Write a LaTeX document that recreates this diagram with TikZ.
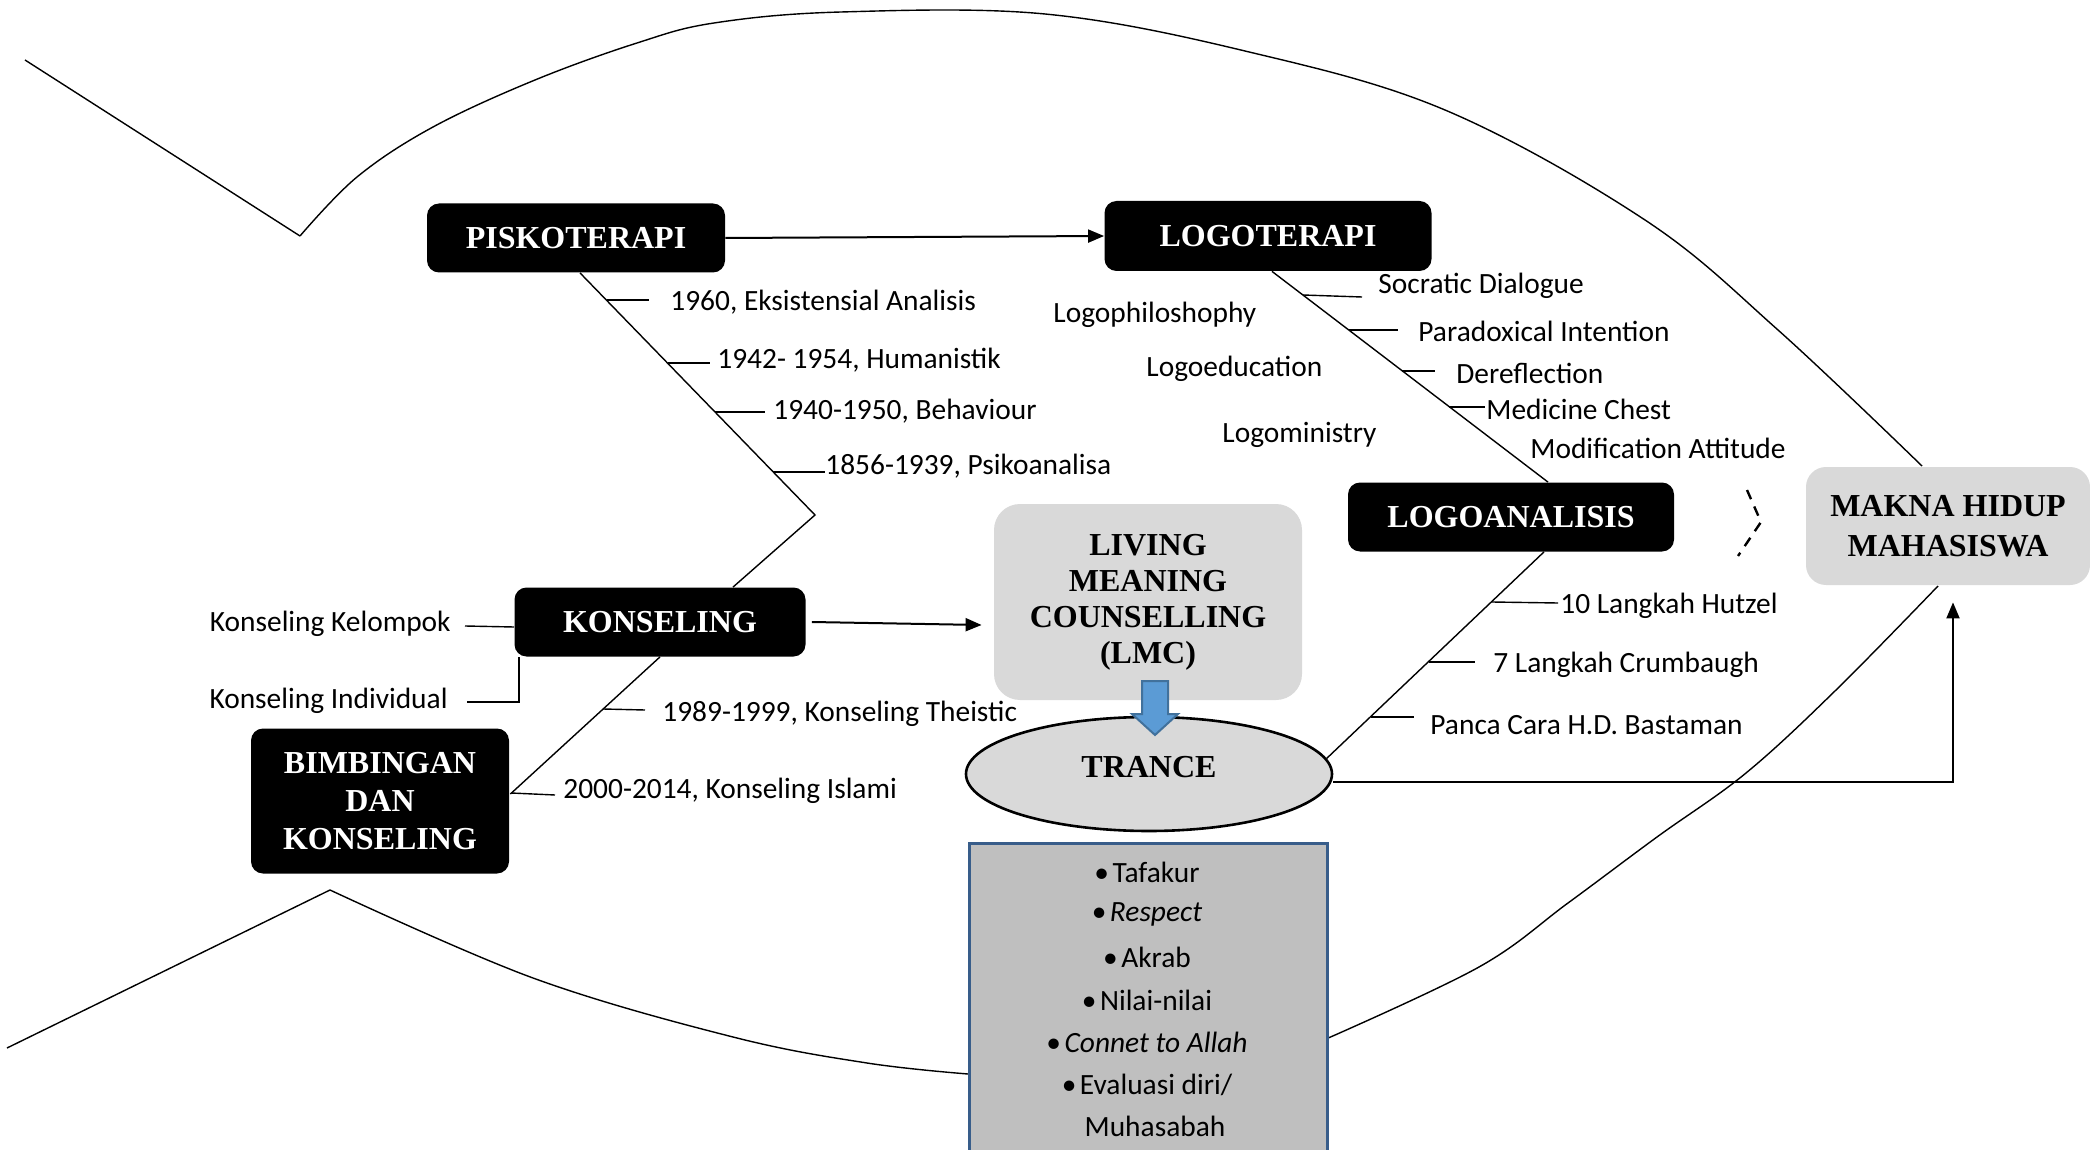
\documentclass[tikz,border=0pt]{standalone}
\usepackage{fontspec}
\setmainfont{Carlito}
\newfontfamily\tms{Liberation Serif}
\usetikzlibrary{arrows.meta,shapes.geometric,calc}
\definecolor{lg}{HTML}{D9D9D9}
\definecolor{mg}{HTML}{BFBFBF}
\definecolor{bb}{HTML}{385D8A}
\definecolor{ab}{HTML}{5B9BD5}
\definecolor{abd}{HTML}{41719C}
\newcommand{\bul}{•\hspace{0.12em}}
\begin{document}
\begin{tikzpicture}[x=0.5pt,y=-0.5pt,
  ln/.style={line width=0.7pt},
  blk/.style={fill=black,text=white,rounded corners=6pt,font=\tms\bfseries\fontsize{16}{19}\selectfont,align=center,inner sep=0pt},
  gbx/.style={fill=lg,font=\tms\bfseries\fontsize{16}{18}\selectfont,align=center,inner sep=0pt},
  lbl/.style={anchor=west,inner sep=0pt,font=\fontsize{14.7}{17}\selectfont},
  itm/.style={inner sep=0pt,font=\fontsize{14.7}{17}\selectfont},
  arr/.style={line width=1pt,-{Triangle[length=8pt,width=6.5pt]}}]
\clip (0,0) rectangle (2090,1150);
\fill[white] (0,0) rectangle (2090,1150);

% outer curves
\draw[ln] (25,60) -- (300,236);
\draw[ln] plot[smooth,tension=0.6] coordinates {(300,236) (357,177) (433,127) (535,80) (637,43) (714,23) (841,12) (1045,14) (1245,51) (1445,110) (1645,220) (1778,330) (1922,466)};
\draw[ln] (7,1048) -- (330,890);
\draw[ln] plot[smooth,tension=0.6] coordinates {(330,890) (533,978) (733,1037) (867,1063) (968,1074)};
\draw[ln] plot[smooth,tension=0.6] coordinates {(1326,1039) (1479,967) (1568,903) (1657,837) (1746,773) (1836,690) (1938,586)};

% boxes
\node[blk,minimum width=149pt,minimum height=34.5pt] (pisko) at (576,238) {PISKOTERAPI};
\node[blk,minimum width=163.5pt,minimum height=35pt] (logo) at (1268,236) {LOGOTERAPI};
\node[blk,minimum width=163pt,minimum height=34.5pt] (logoan) at (1511,517) {LOGOANALISIS};
\node[blk,minimum width=145.5pt,minimum height=34.5pt] (kons) at (660,622) {KONSELING};
\node[blk,minimum width=129pt,minimum height=72.5pt] (bk) at (380,801) {BIMBINGAN\\DAN\\KONSELING};
\node[gbx,rounded corners=13pt,minimum width=154pt,minimum height=98pt] (lmc) at (1148,602) {LIVING\\MEANING\\COUNSELLING\\(LMC)};
\node[gbx,rounded corners=10pt,minimum width=142pt,minimum height=59pt,font=\tms\bfseries\fontsize{16}{20}\selectfont] (makna) at (1948,526) {MAKNA HIDUP\\MAHASISWA};
\node[ellipse,draw,line width=1.3pt,fill=lg,minimum width=183pt,minimum height=57pt,inner sep=0pt] (trance) at (1149,774) {};
\node[inner sep=0pt,font=\tms\bfseries\fontsize{16}{19}\selectfont] (trancetxt) at (1149,767) {TRANCE};
\node[draw=bb,fill=mg,line width=1.3pt,minimum width=179pt,minimum height=160pt,anchor=north west,inner sep=0pt] (list) at (968,842) {};

% list items
\node[itm] (i1) at (1147,872) {\bul Tafakur};
\node[itm] (i2) at (1147,914) {\bul\textit{Respect}};
\node[itm] (i3) at (1147,957) {\bul Akrab};
\node[itm] (i4) at (1147,1000) {\bul Nilai-nilai};
\node[itm] (i5) at (1147,1042) {\bul\textit{Connet to Allah}};
\node[itm] (i6) at (1147,1085) {\bul Evaluasi diri/};
\node[itm] (i7) at (1155,1126) {Muhasabah};

% blue arrow
\draw[fill=ab,draw=abd,line width=1pt] (1142,681) -- (1168,681) -- (1168,714) -- (1178,714) -- (1155,735) -- (1132,714) -- (1142,714) -- cycle;

% main arrows
\draw[arr] (pisko.east) -- (logo.west);
\draw[arr] ($(kons.east)+(6,0)$) -- ($(lmc.west)+(-12,23)$);
\draw[arr] (trance.east) ++(0,8) -| ($(makna.south)+(5,17)$);

% fishbone spines
\coordinate (v1) at (815,515);
\draw[ln] ($(pisko.south)+(4,0)$) -- (v1) -- ($(kons.north)+(73,0)$);
\draw[ln] ($(logo.south)+(4,0)$) -- ($(logoan.north)+(37,0)$);
\draw[ln] ($(logoan.south)+(33,0)$) -- (trance.5);
\draw[ln] (kons.south) -- ($(bk.east)+(1,-7)$);

% psikoterapi labels
\node[lbl] (p1) at (670,302) {1960, Eksistensial Analisis};
\node[lbl] (p2) at (717,360) {1942- 1954, Humanistik};
\node[lbl] (p3) at (773,411) {1940-1950, Behaviour};
\node[lbl] (p4) at (825,466) {1856-1939, Psikoanalisa};
\draw[ln] (607,300) -- (649,300);
\draw[ln] (668,363) -- (710,363);
\draw[ln] (715,412) -- (765,412);
\draw[ln] (773,472) -- (825,472);

% logoterapi labels
\node[lbl] (l1) at (1378,286) {Socratic Dialogue};
\node[lbl] (l2) at (1418,331) {Paradoxical Intention};
\node[lbl] (l3) at (1456,373) {Dereflection};
\node[lbl] (l4) at (1486,409) {Medicine Chest};
\node[lbl] (l5) at (1530,448) {Modification Attitude};
\draw[ln] (1303,295) -- (1362,297);
\draw[ln] (1349,330) -- (1398,330);
\draw[ln] (1402,371) -- (1435,371);
\draw[ln] (1449,407) -- (1485,407);
\node[lbl] (lp) at (1053,315) {Logophiloshophy};
\node[lbl] (le) at (1146,369) {Logoeducation};
\node[lbl] (lm) at (1222,435) {Logoministry};

% logoanalisis labels
\node[lbl] (a1) at (1560,606) {10 Langkah Hutzel};
\node[lbl] (a2) at (1493,665) {7 Langkah Crumbaugh};
\node[lbl] (a3) at (1430,725) {Panca Cara H.D. Bastaman};
\draw[ln] (1492,602) -- (1558,603);
\draw[ln] (1429,662) -- (1475,662);
\draw[ln] (1371,717) -- (1414,717);

% konseling labels
\node[lbl] (k1) at (662,714) {1989-1999, Konseling Theistic};
\node[lbl] (k2) at (563,791) {2000-2014, Konseling Islami};
\draw[ln] (603,709) -- (645,710);
\draw[ln] (511,793) -- (555,795);
\node[lbl,anchor=east] (kk) at (451,624) {Konseling Kelompok};
\node[lbl,anchor=east] (ki) at (448,701) {Konseling Individual};
\draw[ln] ($(kk.east)+(14,2)$) -- ($(kons.west)+(0,5)$);
\draw[ln] ($(ki.east)+(19,1)$) -| ($(kons.south west)+(5,0)$);

% dashed chevron
\draw[line width=1.2pt,dash pattern=on 5pt off 4pt] (1747,490) -- (1761,522) -- (1738,556);
\end{tikzpicture}
\end{document}
